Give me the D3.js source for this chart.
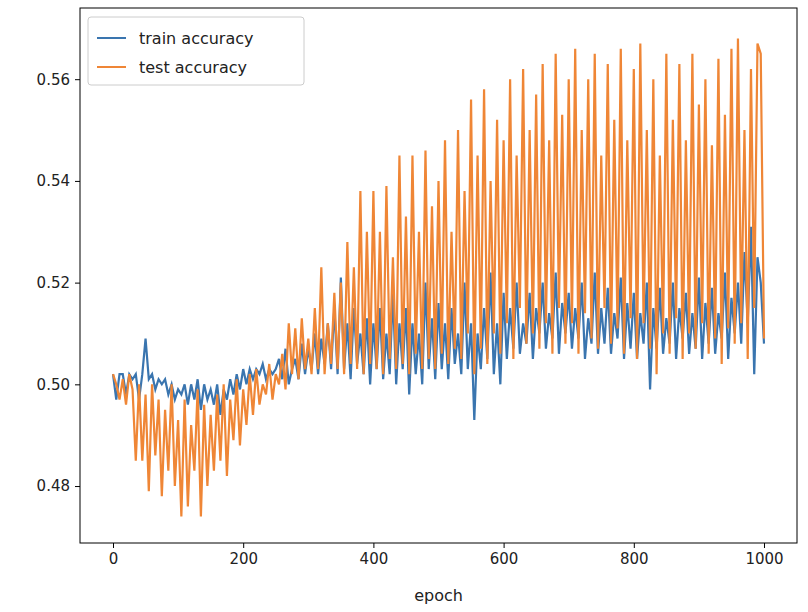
<!DOCTYPE html>
<html><head><meta charset="utf-8">
<script src="https://cdn.jsdelivr.net/npm/d3@7"></script>
<style>body{margin:0;background:#fff}text{font-family:"DejaVu Sans",sans-serif}</style>
</head><body>
<svg width="808" height="612"></svg>
<script>
const epochStep = 5
const trainAcc = [
0.502,0.497,0.502,0.502,0.498,0.502,0.501,0.502,0.497,0.502,0.509,
0.501,0.502,0.499,0.501,0.500,0.501,0.498,0.500,0.497,0.499,
0.498,0.500,0.496,0.500,0.497,0.501,0.495,0.500,0.497,0.499,
0.496,0.500,0.494,0.499,0.497,0.501,0.498,0.502,0.499,0.503,
0.500,0.503,0.501,0.503,0.502,0.504,0.501,0.503,0.502,0.503,
0.505,0.501,0.507,0.500,0.503,0.505,0.501,0.508,0.502,0.507,
0.503,0.510,0.502,0.509,0.504,0.512,0.503,0.515,0.502,0.521,
0.503,0.512,0.501,0.515,0.504,0.510,0.502,0.513,0.500,0.512,
0.503,0.515,0.501,0.510,0.502,0.518,0.500,0.512,0.503,0.515,
0.498,0.512,0.502,0.510,0.500,0.520,0.503,0.513,0.501,0.516,
0.503,0.512,0.501,0.515,0.504,0.510,0.502,0.520,0.503,0.512,
0.493,0.510,0.503,0.515,0.505,0.522,0.502,0.512,0.500,0.518,
0.505,0.515,0.507,0.520,0.506,0.512,0.508,0.518,0.505,0.515,
0.510,0.520,0.507,0.514,0.509,0.522,0.506,0.516,0.510,0.518,
0.507,0.515,0.509,0.520,0.505,0.513,0.508,0.522,0.506,0.515,
0.508,0.519,0.506,0.514,0.509,0.521,0.505,0.516,0.507,0.518,
0.505,0.514,0.508,0.520,0.499,0.515,0.507,0.519,0.506,0.513,
0.508,0.520,0.505,0.515,0.509,0.518,0.506,0.514,0.507,0.521,
0.505,0.516,0.508,0.519,0.506,0.514,0.509,0.522,0.505,0.517,
0.510,0.520,0.508,0.526,0.512,0.531,0.502,0.525,0.520,0.508]
const testAcc = [
0.502,0.500,0.497,0.501,0.496,0.502,0.499,0.485,0.500,0.485,0.498,
0.479,0.500,0.486,0.497,0.478,0.495,0.483,0.500,0.480,0.493,
0.474,0.497,0.476,0.492,0.483,0.499,0.474,0.496,0.480,0.494,
0.483,0.498,0.485,0.500,0.482,0.497,0.489,0.501,0.488,0.499,
0.492,0.502,0.494,0.503,0.496,0.500,0.498,0.504,0.497,0.502,
0.500,0.506,0.499,0.512,0.502,0.511,0.501,0.513,0.503,0.509,
0.502,0.515,0.503,0.523,0.502,0.512,0.504,0.518,0.503,0.520,
0.502,0.528,0.504,0.523,0.503,0.538,0.502,0.530,0.504,0.538,
0.503,0.530,0.502,0.539,0.505,0.525,0.503,0.545,0.504,0.533,
0.502,0.545,0.506,0.530,0.503,0.546,0.505,0.535,0.503,0.540,
0.506,0.548,0.504,0.530,0.507,0.550,0.505,0.538,0.510,0.556,
0.502,0.545,0.507,0.558,0.504,0.540,0.510,0.552,0.506,0.548,
0.512,0.560,0.505,0.545,0.515,0.562,0.508,0.550,0.510,0.557,
0.507,0.563,0.512,0.548,0.506,0.565,0.515,0.553,0.508,0.560,
0.512,0.566,0.506,0.550,0.514,0.560,0.509,0.565,0.507,0.545,
0.515,0.563,0.508,0.552,0.511,0.566,0.506,0.548,0.513,0.562,
0.505,0.567,0.512,0.550,0.507,0.560,0.502,0.545,0.510,0.565,
0.506,0.552,0.513,0.563,0.505,0.548,0.510,0.565,0.507,0.555,
0.512,0.560,0.506,0.547,0.509,0.564,0.504,0.553,0.511,0.566,
0.508,0.568,0.512,0.550,0.505,0.562,0.515,0.567,0.565,0.509]
const xTicks = [0, 200, 400, 600, 800, 1000]
const yTicks = [0.48, 0.50, 0.52, 0.54, 0.56]
const seriesNames = ["train accuracy", "test accuracy"]
const colors = ["#3a75af", "#ef8636"]

const svg = d3.select("svg")
const L = 80, R = 797, T = 8, B = 543

const x = d3.scaleLinear().domain([-50.7, 1050.7]).range([L, R])
const y = d3.scaleLinear().domain([0.4688, 0.574]).range([B, T])

const line = d3.line().x((d, i) => x(i * epochStep)).y(d => y(d))

svg.append("defs").append("clipPath").attr("id", "c")
    .append("rect").attr("x", L).attr("y", T).attr("width", R - L).attr("height", B - T)

const g = svg.append("g").attr("clip-path", "url(#c)")
;[trainAcc, testAcc].forEach((s, k) => {
    g.append("path").datum(s).attr("d", line)
        .attr("fill", "none").attr("stroke", colors[k]).attr("stroke-width", 2.2)
})

svg.append("g").attr("transform", `translate(0,${B})`)
    .call(d3.axisBottom(x).tickValues(xTicks).tickFormat(d3.format("d")).tickSizeOuter(0).tickSize(5).tickPadding(5))
    .call(a => a.selectAll("text").style("font-size", "15px").attr("fill", "#222"))
svg.append("g").attr("transform", `translate(${L},0)`)
    .call(d3.axisLeft(y).tickValues(yTicks).tickFormat(d3.format(".2f")).tickSizeOuter(0).tickSize(5).tickPadding(5))
    .call(a => a.selectAll("text").style("font-size", "15px").attr("fill", "#222"))
svg.selectAll(".domain").remove()

svg.append("rect").attr("x", L).attr("y", T).attr("width", R - L).attr("height", B - T)
    .attr("fill", "none").attr("stroke", "#000").attr("stroke-width", 1)

svg.append("text").attr("x", (L + R) / 2).attr("y", 601).attr("text-anchor", "middle")
    .style("font-size", "16px").attr("fill", "#222").text("epoch")

// legend
const lg = svg.append("g")
lg.append("rect").attr("x", 88).attr("y", 17).attr("width", 216).attr("height", 68).attr("rx", 3)
    .attr("fill", "#fff").attr("fill-opacity", 0.8).attr("stroke", "#ccc")
seriesNames.forEach((n, k) => {
    const yy = 38 + k * 29
    lg.append("line").attr("x1", 97).attr("x2", 126).attr("y1", yy).attr("y2", yy)
        .attr("stroke", colors[k]).attr("stroke-width", 2)
    lg.append("text").attr("x", 139).attr("y", yy + 6).style("font-size", "16px").attr("fill", "#222").text(n)
})
</script>
</body></html>
